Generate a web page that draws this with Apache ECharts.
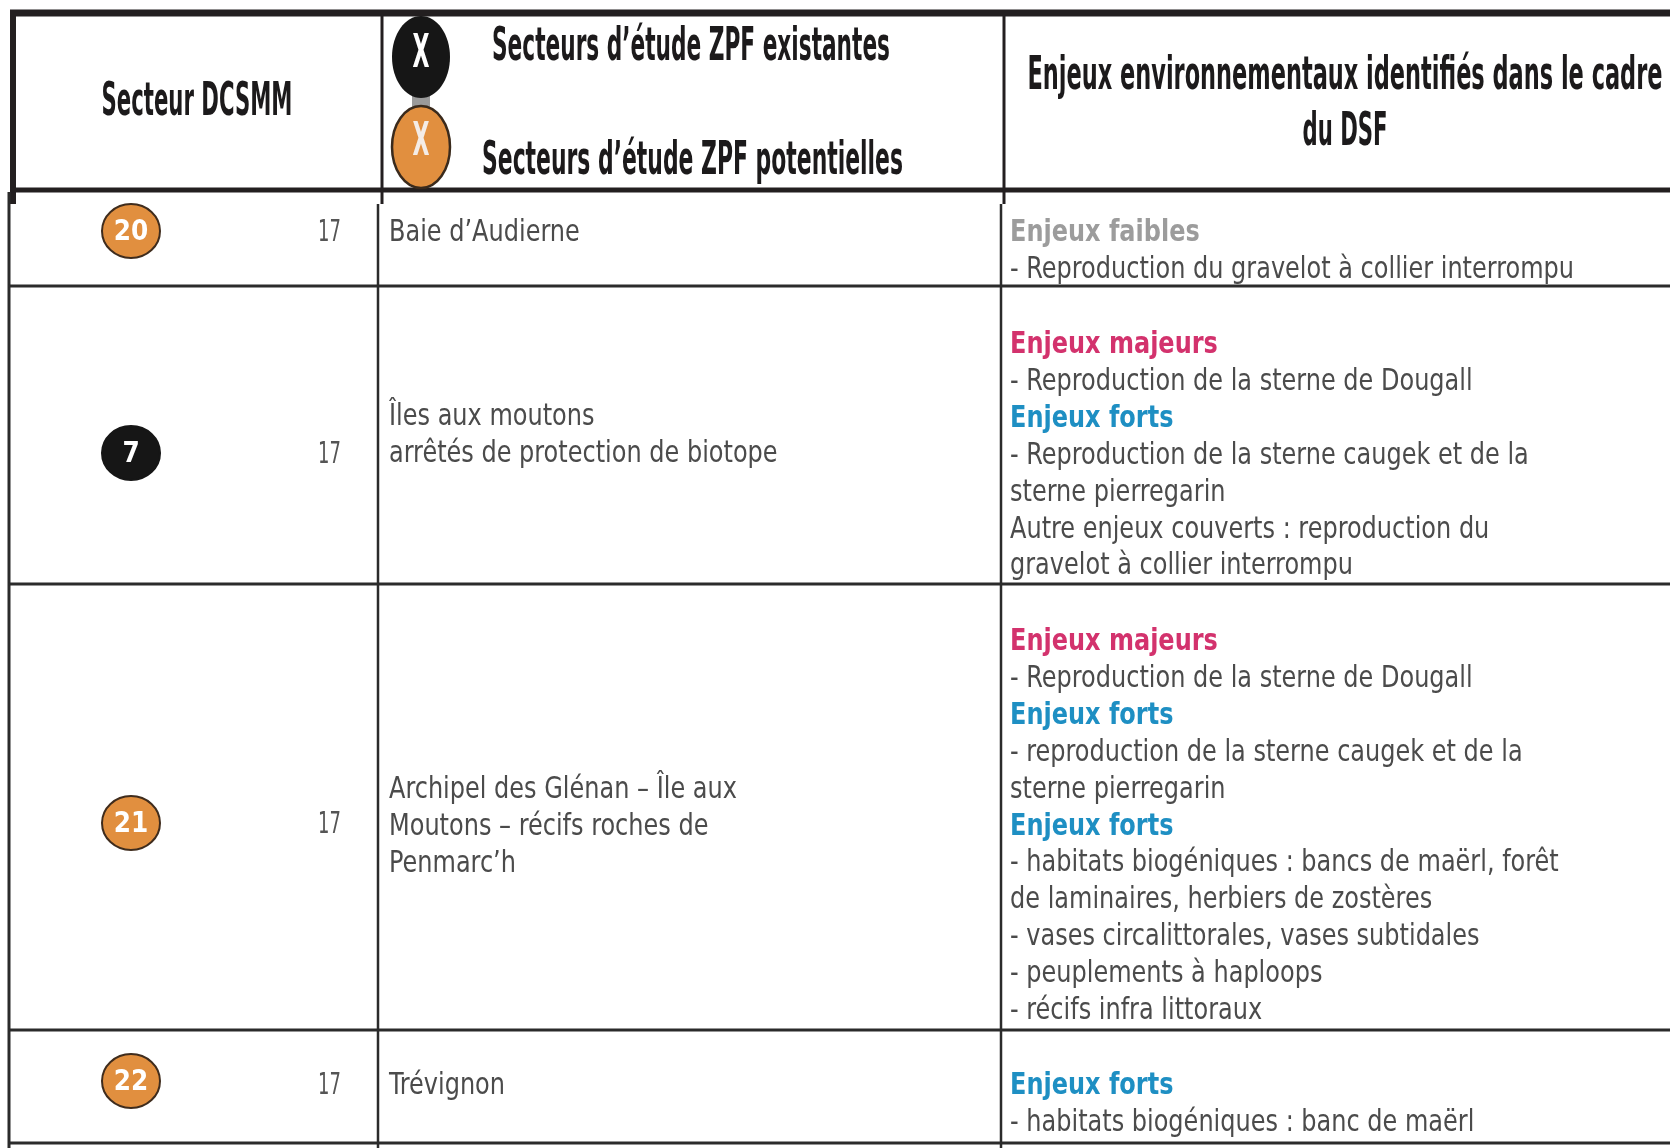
<!DOCTYPE html>
<html><head><meta charset="utf-8">
<script src="https://cdn.jsdelivr.net/npm/echarts@6/dist/echarts.min.js"></script>
<style>html,body{margin:0;padding:0;background:#fff}#c{width:1670px;height:1148px}</style>
</head><body><div id="c"></div>
<script>
// ---------------- data ----------------
const headerDcsmm = 'Secteur DCSMM';
const legendExisting = 'Secteurs d’étude ZPF existantes';
const legendPotential = 'Secteurs d’étude ZPF potentielles';
const legendMark = 'X';
const headerIssues = ['Enjeux environnementaux identifiés dans le cadre', 'du DSF'];

const sectorIds = ['20', '7', '21', '22'];
const sectorStatus = ['potentielle', 'existante', 'potentielle', 'potentielle'];
const dcsmmCodes = ['17', '17', '17', '17'];
const siteNames = [
  ['Baie d’Audierne'],
  ['Îles aux moutons', 'arrêtés de protection de biotope'],
  ['Archipel des Glénan – Île aux', 'Moutons – récifs roches de', 'Penmarc’h'],
  ['Trévignon']
];
const issueKinds = [
  ['faibles', 'txt'],
  ['majeurs', 'txt', 'forts', 'txt', 'txt', 'txt', 'txt'],
  ['majeurs', 'txt', 'forts', 'txt', 'txt', 'forts', 'txt', 'txt', 'txt', 'txt', 'txt'],
  ['forts', 'txt']
];
const issueTexts = [
  ['Enjeux faibles', '- Reproduction du gravelot à collier interrompu'],
  ['Enjeux majeurs', '- Reproduction de la sterne de Dougall', 'Enjeux forts',
   '- Reproduction de la sterne caugek et de la', 'sterne pierregarin',
   'Autre enjeux couverts : reproduction du', 'gravelot à collier interrompu'],
  ['Enjeux majeurs', '- Reproduction de la sterne de Dougall', 'Enjeux forts',
   '- reproduction de la sterne caugek et de la', 'sterne pierregarin', 'Enjeux forts',
   '- habitats biogéniques : bancs de maërl, forêt', 'de laminaires, herbiers de zostères',
   '- vases circalittorales, vases subtidales', '- peuplements à haploops', '- récifs infra littoraux'],
  ['Enjeux forts', '- habitats biogéniques : banc de maërl']
];

// ---------------- layout / style ----------------
const W = 1670, H = 1148;
const FF = '"Liberation Sans Narrow", "DejaVu Sans Condensed", "Arial Narrow", sans-serif';
const LAYOUT = {
  badgeX: 131, badgeRx: 29, badgeRy: 27,
  codeX: 341, nameX: 389, issueX: 1010, lineH: 36.9,
  badgeY: [231, 453, 823, 1081],
  codeY: [233, 455, 825, 1086],
  nameY0: [233, 417, 790, 1086],
  issueY0: [233, 345, 642, 1086],
  bodyFont: 31, bodyRefText: '- Reproduction du gravelot à collier interrompu', bodyRefW: 564,
  headFont: 46
};
const KIND_STYLE = {
  faibles: { fill: '#9c9c9c', fw: 'bold' },
  majeurs: { fill: '#d3326d', fw: 'bold' },
  forts: { fill: '#1e8fc3', fw: 'bold' },
  txt: { fill: '#4b4b4b', fw: 'normal' }
};
const C_ORANGE = '#e18f3f', C_BLACK = '#161616', C_LINE = '#2b2b2b';

const mctx = document.createElement('canvas').getContext('2d');
function fit(str, font, w) { mctx.font = font; return w / mctx.measureText(str).width; }
const bodySX = fit(LAYOUT.bodyRefText, LAYOUT.bodyFont + 'px ' + FF, LAYOUT.bodyRefW);

function T(str, p, o) {
  return {
    type: 'text', x: p[0], y: p[1], scaleX: o.sx || 1,
    style: {
      text: str, x: 0, y: 0, fill: o.fill || '#222', fontFamily: FF,
      fontSize: o.fs, fontWeight: o.fw || 'normal',
      align: o.align || 'left', verticalAlign: 'middle'
    }
  };
}
function headText(str, p, w, align, fill) {
  const sx = fit(str, 'bold ' + LAYOUT.headFont + 'px ' + FF, w);
  return T(str, p, { sx: sx, fs: LAYOUT.headFont, fw: 'bold', fill: fill || '#1c1a1b', align: align });
}

// frame lines: [x1, y1, x2, y2, width, colour]
const frameLines = [
  [10, 13, W, 13, 7, '#231f20'],
  [13, 10, 13, 204, 6, '#231f20'],
  [10, 190, W, 190, 5, '#231f20'],
  [382, 14, 382, 204, 3, '#231f20'],
  [1004, 14, 1004, 204, 3, '#231f20'],
  [9, 192, 9, H, 3, C_LINE],
  [378, 204, 378, H, 2.5, C_LINE],
  [1001, 204, 1001, H, 2.5, C_LINE],
  [8, 286, W, 286, 3, C_LINE],
  [8, 584, W, 584, 3, C_LINE],
  [8, 1030, W, 1030, 3, C_LINE],
  [8, 1143, W, 1143, 3, C_LINE]
];

function renderFrame(params, api) {
  const c = (x, y) => api.coord([x, y]);
  const kids = [];
  frameLines.forEach(l => {
    const a = c(l[0], l[1]), b = c(l[2], l[3]);
    kids.push({ type: 'line', shape: { x1: a[0], y1: a[1], x2: b[0], y2: b[1] },
      style: { stroke: l[5], lineWidth: l[4] } });
  });
  kids.push(headText(headerDcsmm, c(197, 103), 191, 'center'));
  // legend marks
  const e1 = c(421, 57), e2 = c(421, 147);
  kids.push({ type: 'rect', shape: { x: e1[0] - 9, y: e1[1] + 36, width: 18, height: 18 }, style: { fill: '#9a9a9a' } });
  kids.push({ type: 'ellipse', shape: { cx: e1[0], cy: e1[1], rx: 29, ry: 41 }, style: { fill: C_BLACK } });
  kids.push({ type: 'ellipse', shape: { cx: e2[0], cy: e2[1], rx: 29, ry: 41 }, style: { fill: C_ORANGE, stroke: '#3a2a1c', lineWidth: 2.5 } });
  kids.push(headText(legendMark, c(421, 55), 17, 'center', '#ffffff'));
  kids.push(headText(legendMark, c(421, 143), 17, 'center', '#f4ece6'));
  kids.push(headText(legendExisting, c(492, 48), 398, 'left'));
  kids.push(headText(legendPotential, c(482, 162), 421, 'left'));
  kids.push(headText(headerIssues[0], c(1345, 77), 635, 'center'));
  kids.push(headText(headerIssues[1], c(1345, 133), 85, 'center'));
  return { type: 'group', children: kids };
}

function renderRow(params, api) {
  const i = api.value(0);
  const c = (x, y) => api.coord([x, y]);
  const kids = [];
  const ex = sectorStatus[i] === 'existante';
  const b = c(LAYOUT.badgeX, LAYOUT.badgeY[i]);
  kids.push({ type: 'ellipse', shape: { cx: b[0], cy: b[1], rx: LAYOUT.badgeRx, ry: LAYOUT.badgeRy },
    style: { fill: ex ? C_BLACK : C_ORANGE, stroke: ex ? C_BLACK : '#3f2c1d', lineWidth: 2 } });
  kids.push(T(sectorIds[i], [b[0], b[1] + 1], { fs: 29, fw: 'bold', fill: '#ffffff', align: 'center', sx: 0.95 }));
  kids.push(T(dcsmmCodes[i], c(LAYOUT.codeX, LAYOUT.codeY[i]), { fs: LAYOUT.bodyFont, fill: '#555', align: 'right', sx: bodySX * 0.75 }));
  siteNames[i].forEach((s, k) => {
    kids.push(T(s, c(LAYOUT.nameX, LAYOUT.nameY0[i] + k * LAYOUT.lineH), { fs: LAYOUT.bodyFont, fill: '#4b4b4b', sx: bodySX }));
  });
  issueTexts[i].forEach((s, k) => {
    const st = KIND_STYLE[issueKinds[i][k]];
    kids.push(T(s, c(LAYOUT.issueX, LAYOUT.issueY0[i] + k * LAYOUT.lineH), { fs: LAYOUT.bodyFont, fill: st.fill, fw: st.fw, sx: bodySX }));
  });
  return { type: 'group', children: kids };
}

const chart = echarts.init(document.getElementById('c'), null, { renderer: 'canvas' });
chart.setOption({
  animation: false,
  backgroundColor: '#ffffff',
  grid: { left: 0, right: 0, top: 0, bottom: 0 },
  xAxis: { type: 'value', min: 0, max: W, show: false },
  yAxis: { type: 'value', min: 0, max: H, inverse: true, show: false },
  series: [
    { type: 'custom', clip: false, silent: true, data: [[0, 0]], renderItem: renderFrame },
    { type: 'custom', clip: false, silent: true, data: sectorIds.map((_, i) => [i, i]), renderItem: renderRow }
  ]
});
</script>
</body></html>
